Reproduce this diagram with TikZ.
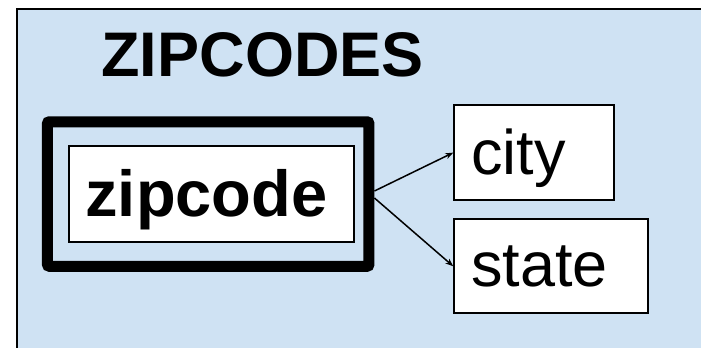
\documentclass[tikz,border=0pt]{standalone}
\usepackage{fontspec}
\setmainfont{Liberation Sans}
\usetikzlibrary{arrows.meta}
\definecolor{panelblue}{HTML}{CFE2F3}
\def\pxu{0.75pt}
\tikzset{
  box/.style={draw=black, fill=white, line width=2*\pxu, rectangle, inner sep=0pt},
  keybox/.style={draw=black, line width=11*\pxu, rectangle, inner sep=0pt, rounded corners=2*\pxu},
  lbl/.style={inner sep=0pt, outer sep=0pt, anchor=base west},
  dep/.style={line width=1.5*\pxu, -{Stealth[length=8*\pxu, width=6*\pxu]}}
}
\begin{document}
\begin{tikzpicture}[x=\pxu, y=-\pxu]
  \useasboundingbox (0,0) rectangle (701,347);
  \clip (0,0) rectangle (701,347);
  % entity panel
  \draw[fill=panelblue, line width=2*\pxu] (17,9) rectangle (760,400);
  % entity title
  \node[lbl, font=\fontsize{47.25pt}{50pt}\selectfont\bfseries] (title) at (101.5,76.7) {ZIPCODES};
  % key attribute with heavy frame
  \node[keybox, minimum width=321.5*\pxu, minimum height=144.5*\pxu] (keyframe) at (208.2,194) {};
  \node[box, minimum width=285.3*\pxu, minimum height=96*\pxu] (zip) at (211.3,194) {};
  \node[lbl, font=\fontsize{48.75pt}{52pt}\selectfont\bfseries] (ziptext) at (85.5,216.7) {zipcode};
  % dependent attributes
  \node[box, minimum width=159.7*\pxu, minimum height=94.7*\pxu] (city) at (534.2,152.6) {};
  \node[lbl, font=\fontsize{47.25pt}{50pt}\selectfont] (citytext) at (471,174) {city};
  \node[box, minimum width=194*\pxu, minimum height=94*\pxu] (state) at (551.3,266.3) {};
  \node[lbl, font=\fontsize{47.25pt}{50pt}\selectfont] (statetext) at (471,286) {state};
  % functional dependencies
  \draw[dep] ([yshift=2.25pt]keyframe.east) -- (city.west);
  \draw[dep] ([yshift=-3pt]keyframe.east) -- (state.west);
\end{tikzpicture}
\end{document}
